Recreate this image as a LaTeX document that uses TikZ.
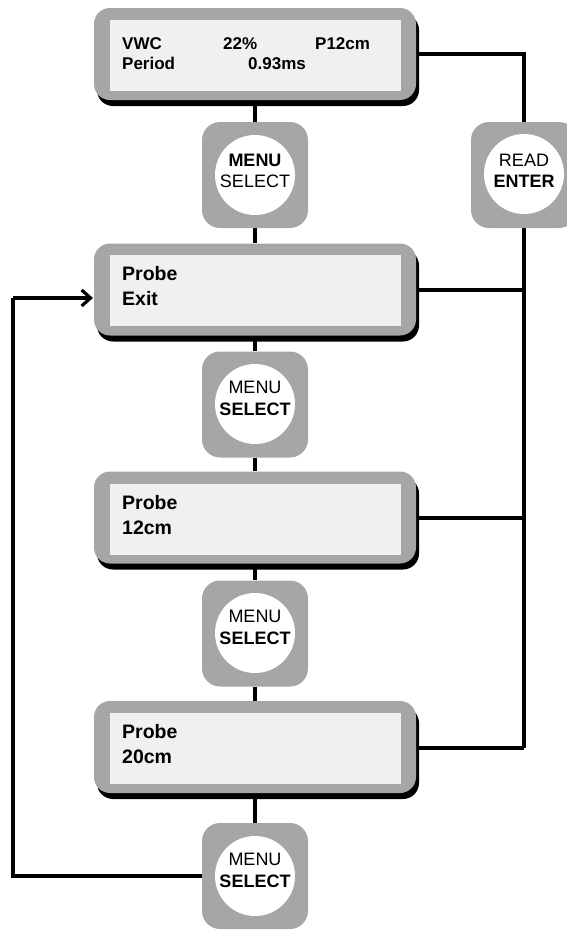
\documentclass[tikz,border=0pt]{standalone}
\usepackage{fontspec}
\setmainfont{Liberation Sans}
\usetikzlibrary{shadows,arrows.meta,backgrounds}
\definecolor{boxgray}{RGB}{166,166,166}
\definecolor{panelgray}{RGB}{240,240,240}
\begin{document}
\begin{tikzpicture}[x=1pt,y=-1pt,
  outerbox/.style={rectangle,rounded corners=16pt,fill=boxgray,minimum width=322pt,minimum height=92pt,inner sep=0pt,
    drop shadow={shadow xshift=3pt,shadow yshift=-6pt,fill=black,opacity=1}},
  panel/.style={rectangle,fill=panelgray,minimum width=291pt,minimum height=71pt,inner sep=0pt},
  btn/.style={rectangle,rounded corners=18pt,fill=boxgray,minimum size=106pt,inner sep=0pt},
  knob/.style={circle,fill=white,minimum size=80pt,inner sep=0pt},
  wire/.style={line width=3.2pt},
  boxtxt/.style={anchor=base west,inner sep=0pt,font=\fontsize{19.5}{25}\selectfont\bfseries},
  toptxt/.style={anchor=base west,inner sep=0pt,font=\fontsize{17}{21}\selectfont\bfseries},
  btntxt/.style={anchor=base,inner sep=0pt,font=\fontsize{18}{22}\selectfont},
  btnbold/.style={btntxt,font=\fontsize{18}{22}\selectfont\bfseries}]
\useasboundingbox (0,0) rectangle (567,930);

% boxes
\node[outerbox] (b0) at (255,54) {};
\node[panel] (p0) at (255,55) {};
\node[outerbox] (b1) at (255,289.5) {};
\node[panel] (p1) at (255,290.5) {};
\node[outerbox] (b2) at (255,517.5) {};
\node[panel] (p2) at (255,519) {};
\node[outerbox] (b3) at (255,747) {};
\node[panel] (p3) at (255,748.5) {};

% box texts
\node[toptxt] (t0a) at (122,49) {VWC};
\node[toptxt] (t0b) at (223,49) {22\%};
\node[toptxt] (t0c) at (315,49) {P12cm};
\node[toptxt] (t0d) at (122,69.5) {Period};
\node[toptxt] (t0e) at (248,69.5) {0.93ms};

\node[boxtxt] (t1a) at (122,280) {Probe};
\node[boxtxt] (t1b) at (122,305) {Exit};
\node[boxtxt] (t2a) at (122,509) {Probe};
\node[boxtxt] (t2b) at (122,534) {12cm};
\node[boxtxt] (t3a) at (122,738) {Probe};
\node[boxtxt] (t3b) at (122,763) {20cm};

% buttons
\node[btn] (m1) at (255,175) {};
\node[knob] (k1) at (255,175) {};
\node[btnbold] (m1a) at (255,166) {MENU};
\node[btntxt] (m1b) at (255,187) {SELECT};

\node[btn] (m2) at (255,404.5) {};
\node[knob] (k2) at (255,404) {};
\node[btntxt] (m2a) at (255,393) {MENU};
\node[btnbold] (m2b) at (255,415) {SELECT};

\node[btn] (m3) at (255,633.5) {};
\node[knob] (k3) at (255,633) {};
\node[btntxt] (m3a) at (255,622) {MENU};
\node[btnbold] (m3b) at (255,644) {SELECT};

\node[btn] (m4) at (255,876) {};
\node[knob] (k4) at (255,876) {};
\node[btntxt] (m4a) at (255,865) {MENU};
\node[btnbold] (m4b) at (255,887) {SELECT};

\node[btn] (r) at (524,175) {};
\node[knob] (kr) at (524,174) {};
\node[btntxt] (ra) at (524,166) {READ};
\node[btnbold] (rb) at (524,187) {ENTER};

% junction coordinates
\coordinate (rt) at (524,54);
\coordinate (r1) at (524,290);
\coordinate (r2) at (524,518);
\coordinate (r3) at (524,748);
\coordinate (lb) at (13,876);
\coordinate (lt) at (13,298);
\coordinate (ar) at (93,298);

% wires (behind)
\begin{scope}[on background layer]
\draw[wire] (b0.south) -- (m1.north);
\draw[wire] (m1.south) -- (b1.north);
\draw[wire] (b1.south) -- (m2.north);
\draw[wire] (m2.south) -- (b2.north);
\draw[wire] (b2.south) -- (m3.north);
\draw[wire] (m3.south) -- (b3.north);
\draw[wire] (b3.south) -- (m4.north);
\draw[wire] (b0.east) -- (rt) -- (r.north);
\draw[wire] (r.south) -- (r3);
\draw[wire] (b1.east |- r1) -- (r1);
\draw[wire] (b2.east |- r2) -- (r2);
\draw[wire] (b3.east |- r3) -- (r3);
\draw[wire] (m4.west) -- (lb) -- (lt);
\draw[wire,-{Straight Barb[length=9pt,width=16pt]}] (lt) -- (ar);
\end{scope}
\end{tikzpicture}
\end{document}
